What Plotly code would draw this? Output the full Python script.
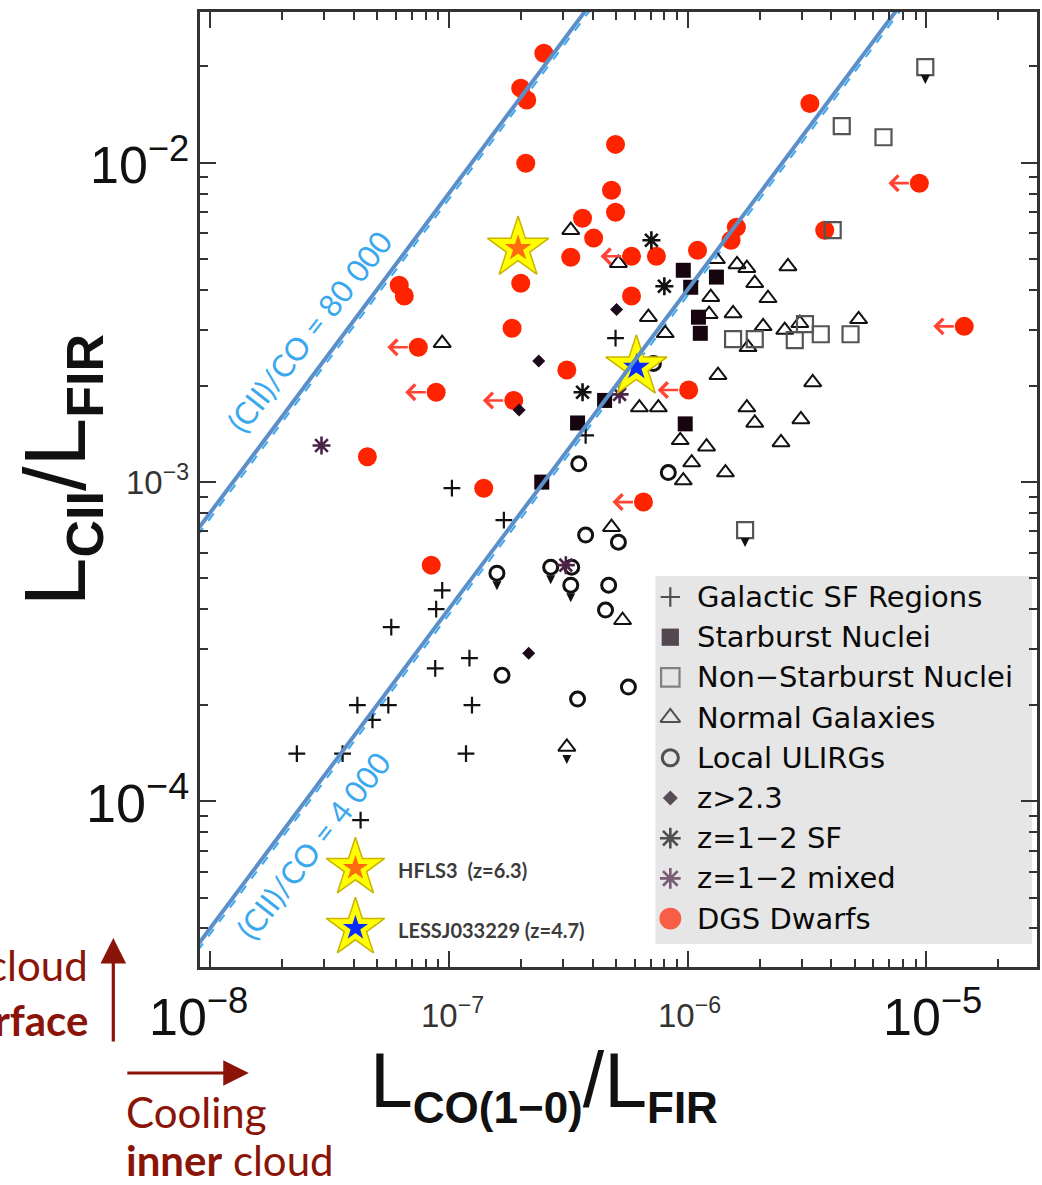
import numpy as np
import plotly.graph_objects as go

# ---------------- samples: x = L_CO(1-0)/L_FIR, y = L_CII/L_FIR ----------------
gal_x = [4.99e-7, 3.74e-7, 1.03e-7, 1.70e-7, 9.38e-8, 8.85e-8, 5.74e-8, 1.22e-7, 8.77e-8,
         4.14e-8, 5.58e-8, 1.25e-7, 4.79e-8, 2.31e-8, 3.59e-8, 1.18e-7, 4.27e-8]
gal_y = [2.82e-3, 1.40e-3, 9.56e-4, 7.59e-4, 4.58e-4, 4.00e-4, 3.51e-4, 2.81e-4, 2.61e-4,
         2.00e-4, 2.00e-4, 2.00e-4, 1.80e-4, 1.41e-4, 1.41e-4, 1.41e-4, 8.74e-5]

sb_x = [9.59e-7, 1.03e-6, 1.32e-6, 1.11e-6, 1.13e-6, 4.49e-7, 3.46e-7, 9.77e-7, 2.45e-7]
sb_y = [4.60e-3, 4.07e-3, 4.38e-3, 3.28e-3, 2.92e-3, 1.80e-3, 1.53e-3, 1.52e-3, 9.99e-4]

nsb_x = [9.89e-6, 4.42e-6, 6.61e-6, 4.05e-6, 1.55e-6, 1.91e-6, 2.81e-6, 3.10e-6, 3.61e-6,
         4.81e-6, 1.74e-6]
nsb_y = [1.99e-2, 1.30e-2, 1.20e-2, 6.14e-3, 2.80e-3, 2.80e-3, 2.78e-3, 3.12e-3, 2.90e-3,
         2.90e-3, 7.07e-4]
nsb_upper = [1, 0, 0, 0, 0, 0, 0, 0, 0, 0, 1]

norm_x = [3.24e-7, 5.13e-7, 9.38e-8, 1.32e-6, 1.61e-6, 1.77e-6, 1.91e-6, 2.17e-6, 2.63e-6,
          1.25e-6, 6.85e-7, 1.23e-6, 1.55e-6, 8.06e-7, 2.07e-6, 1.79e-6, 2.55e-6, 2.95e-6,
          5.20e-6, 1.34e-6, 3.34e-6, 6.28e-7, 7.54e-7, 1.77e-6, 1.91e-6, 2.98e-6, 2.46e-6,
          9.31e-7, 1.20e-6, 1.04e-6, 1.44e-6, 9.59e-7, 4.80e-7, 5.34e-7, 3.12e-7]
norm_y = [6.14e-3, 4.84e-3, 2.72e-3, 4.98e-3, 4.80e-3, 4.67e-3, 4.19e-3, 3.76e-3, 4.73e-3,
          3.79e-3, 3.28e-3, 3.35e-3, 3.37e-3, 2.92e-3, 3.07e-3, 2.64e-3, 2.99e-3, 3.14e-3,
          3.23e-3, 2.16e-3, 2.05e-3, 1.71e-3, 1.71e-3, 1.71e-3, 1.53e-3, 1.57e-3, 1.33e-3,
          1.35e-3, 1.29e-3, 1.15e-3, 1.07e-3, 1.01e-3, 7.22e-4, 3.69e-4, 1.48e-4]
norm_upper = [0] * 34 + [1]

ulirg_x = [3.50e-7, 8.30e-7, 3.74e-7, 5.13e-7, 1.59e-7, 2.67e-7, 3.27e-7, 3.24e-7, 4.67e-7,
           4.53e-7, 1.67e-7, 3.46e-7, 5.65e-7, 7.19e-7]
ulirg_y = [1.14e-3, 1.07e-3, 6.82e-4, 6.48e-4, 5.18e-4, 5.41e-4, 5.41e-4, 4.75e-4, 4.75e-4,
           3.97e-4, 2.48e-4, 2.09e-4, 2.28e-4, 2.35e-3]
ulirg_upper = [0, 0, 0, 0, 1, 1, 0, 1, 0, 0, 0, 0, 0, 0]

hiz_x = [5.04e-7, 2.38e-7, 1.97e-7, 2.16e-7]
hiz_y = [3.47e-3, 2.39e-3, 1.68e-3, 2.91e-4]

sf_x = [7.05e-7, 7.99e-7, 3.63e-7]
sf_y = [5.71e-3, 4.10e-3, 1.91e-3]

mix_x = [2.93e-8, 5.19e-7, 3.09e-7]
mix_y = [1.30e-3, 1.88e-3, 5.49e-4]

dgs_x = [2.50e-7, 2.00e-7, 2.12e-7, 4.99e-7, 2.10e-7, 4.80e-7, 4.99e-7, 3.63e-7, 4.04e-7,
         3.24e-7, 5.82e-7, 7.40e-7, 1.10e-6, 1.60e-6, 1.52e-6, 3.25e-6, 3.75e-6, 9.34e-6,
         2.00e-7, 6.20e-8, 6.51e-8, 5.82e-7, 1.84e-7, 7.45e-8, 8.85e-8, 1.87e-7, 4.56e-8,
         1.40e-7, 8.44e-8, 3.12e-7, 1.01e-6, 6.53e-7, 1.44e-5]
dgs_y = [2.20e-2, 1.71e-2, 1.57e-2, 1.14e-2, 9.95e-3, 8.19e-3, 6.99e-3, 6.69e-3, 5.80e-3,
         5.05e-3, 5.09e-3, 5.09e-3, 5.31e-3, 6.27e-3, 5.71e-3, 1.53e-2, 6.14e-3, 8.62e-3,
         4.19e-3, 4.13e-3, 3.82e-3, 3.82e-3, 3.03e-3, 2.64e-3, 1.91e-3, 1.80e-3, 1.20e-3,
         9.56e-4, 5.49e-4, 2.24e-3, 1.94e-3, 8.65e-4, 3.07e-3]
dgs_upper = [0, 0, 0, 0, 0, 0, 0, 0, 0, 0, 1, 0, 0, 0, 0, 0, 0, 1,
             0, 0, 0, 0, 0, 1, 1, 1, 0, 0, 0, 0, 1, 1, 1]

# high-redshift sources highlighted with stars
star_names = ["HFLS3  (z=6.3)", "LESSJ033229 (z=4.7)"]
star_x = [1.95e-7, 6.10e-7]
star_y = [5.39e-3, 2.29e-3]
star_core = ["#ff6c10", "#0a2cff"]

# constant [CII]/CO ratio lines
ratio_values = [80000, 4000]
ratio_labels = ["(CII)/CO = 80 000", "(CII)/CO = 4 000"]

# tick labels
xtick_vals = [1e-8, 1e-7, 1e-6, 1e-5]
xtick_text = ["10<sup>−8</sup>", "10<sup>−7</sup>", "10<sup>−6</sup>", "10<sup>−5</sup>"]
ytick_vals = [1e-2, 1e-3, 1e-4]
ytick_text = ["10<sup>−2</sup>", "10<sup>−3</sup>", "10<sup>−4</sup>"]

legend_names = ["Galactic SF Regions", "Starburst Nuclei", "Non−Starburst Nuclei",
                "Normal Galaxies", "Local ULIRGs", "z>2.3", "z=1−2 SF", "z=1−2 mixed",
                "DGS Dwarfs"]

# ---------------- page geometry ----------------
W, H = 1042, 1185
L_M, R_M, T_M, B_M = 200, 2, 12, 218
PW, PH = W - L_M - R_M, H - T_M - B_M


def fx(p):
    return (p - L_M) / PW


def fy(p):
    return (H - B_M - p) / PH


STY = {
    "Galactic SF Regions": dict(symbol="cross-thin", size=12, color="#111111",
                                line=dict(color="#111111", width=2.2)),
    "Starburst Nuclei": dict(symbol="square", size=15, color="#16040f",
                             line=dict(width=0)),
    "Non−Starburst Nuclei": dict(symbol="square-open", size=16, color="#555555",
                                 line=dict(color="#555555", width=2.2)),
    "Normal Galaxies": dict(symbol="triangle-up-open", size=15, color="#111111",
                            line=dict(color="#111111", width=2)),
    "Local ULIRGs": dict(symbol="circle-open", size=14, color="#111111",
                         line=dict(color="#111111", width=3)),
    "z>2.3": dict(symbol="diamond", size=10, color="#1c0a1a", line=dict(width=0)),
    "z=1−2 SF": dict(symbol="asterisk", size=15, color="#111111",
                     line=dict(color="#111111", width=2.6)),
    "z=1−2 mixed": dict(symbol="asterisk", size=15, color="#4b2347",
                        line=dict(color="#4b2347", width=2.6)),
    "DGS Dwarfs": dict(symbol="circle", size=19, color="#ff2400", line=dict(width=0)),
}

SERIES = {
    "DGS Dwarfs": (dgs_x, dgs_y),
    "Normal Galaxies": (norm_x, norm_y),
    "Non−Starburst Nuclei": (nsb_x, nsb_y),
    "Local ULIRGs": (ulirg_x, ulirg_y),
    "Galactic SF Regions": (gal_x, gal_y),
    "Starburst Nuclei": (sb_x, sb_y),
    "z>2.3": (hiz_x, hiz_y),
    "z=1−2 SF": (sf_x, sf_y),
    "z=1−2 mixed": (mix_x, mix_y),
}

LINE_BLUE = "#5b8fc9"
LABEL_BLUE = "#3aa8ee"
DARK_RED = "#8b1408"

fig = go.Figure()
x_span = np.array([1e-9, 1e-4])

# thin dashed companions of the ratio lines
for r in ratio_values:
    fig.add_trace(go.Scatter(x=x_span, y=0.96 * r * x_span, mode="lines",
                             line=dict(color=LABEL_BLUE, width=2, dash="dash"),
                             hoverinfo="skip"))

for name, (xs, ys) in SERIES.items():
    fig.add_trace(go.Scatter(x=xs, y=ys, mode="markers", name=name,
                             marker=STY[name], hoverinfo="skip"))

# highlighted sources: yellow star with coloured core
fig.add_trace(go.Scatter(x=star_x, y=star_y, mode="markers",
                         marker=dict(symbol="star", size=46, color="#ffff00",
                                     line=dict(color="#c9b400", width=1.5)),
                         hoverinfo="skip"))
fig.add_trace(go.Scatter(x=star_x, y=star_y, mode="markers",
                         marker=dict(symbol="star", size=20, color=star_core,
                                     line=dict(width=0)),
                         hoverinfo="skip"))

# constant-ratio lines
for r in ratio_values:
    fig.add_trace(go.Scatter(x=x_span, y=r * x_span, mode="lines",
                             line=dict(color=LINE_BLUE, width=4), hoverinfo="skip"))

# ---------------- legend key drawn on a pixel overlay ----------------
key_top, key_step, key_sym_x = 597, 40.2, 672
key_y = [key_top + key_step * i for i in range(len(legend_names))]
fig.add_trace(go.Scatter(
    x=[key_sym_x] * len(legend_names), y=key_y, mode="markers",
    xaxis="x2", yaxis="y2", hoverinfo="skip",
    marker=dict(symbol=[STY[n]["symbol"] for n in legend_names],
                size=[STY[n]["size"] * 1.15 for n in legend_names],
                color=[STY[n]["color"] for n in legend_names],
                line=dict(color=[STY[n]["line"].get("color", STY[n]["color"]) for n in legend_names],
                          width=[STY[n]["line"]["width"] for n in legend_names]))))

star_key_x, star_key_y = 356, [868, 928]
fig.add_trace(go.Scatter(x=[star_key_x] * 2, y=star_key_y, mode="markers",
                         xaxis="x2", yaxis="y2", hoverinfo="skip",
                         marker=dict(symbol="star", size=44, color="#ffff00",
                                     line=dict(color="#c9b400", width=1.5))))
fig.add_trace(go.Scatter(x=[star_key_x] * 2, y=star_key_y, mode="markers",
                         xaxis="x2", yaxis="y2", hoverinfo="skip",
                         marker=dict(symbol="star", size=19, color=star_core,
                                     line=dict(width=0))))

ann = []


def note(px_x, px_y, text, size, color, family="Lato", xanchor="center", angle=0):
    return dict(x=fx(px_x), y=fy(px_y), xref="paper", yref="paper", text=text,
                showarrow=False, xanchor=xanchor, yanchor="middle", textangle=angle,
                font=dict(family=family, size=size, color=color))


# upper limits: red arrows pointing left for dwarfs
for x, y, u in zip(dgs_x, dgs_y, dgs_upper):
    if u:
        ann.append(dict(x=np.log10(x), y=np.log10(y), xref="x", yref="y", text="",
                        showarrow=True, xshift=-31, ax=22, ay=0, axref="pixel",
                        arrowhead=4, arrowsize=1.15, arrowwidth=2.6, arrowcolor="#ff4436"))

# small downward arrows for limits
for xs, ys, us in [(nsb_x, nsb_y, nsb_upper), (norm_x, norm_y, norm_upper),
                   (ulirg_x, ulirg_y, ulirg_upper)]:
    for x, y, u in zip(xs, ys, us):
        if u:
            ann.append(dict(x=np.log10(x), y=np.log10(y), xref="x", yref="y", text="",
                            showarrow=True, yshift=-17, ax=0, ay=-9,
                            arrowhead=2, arrowsize=1, arrowwidth=1.8, arrowcolor="#111111"))

# tick labels
x_label_size = [52, 33, 33, 52]
x_label_shift = [-12, 4, 2, 6]
for v, t, s, sh in zip(xtick_vals, xtick_text, x_label_size, x_label_shift):
    ann.append(dict(x=np.log10(v), y=fy(1013), xref="x", yref="paper", text=t,
                    showarrow=False, xanchor="center", yanchor="middle", xshift=sh,
                    font=dict(family="Liberation Sans", size=s,
                              color="#111111" if s > 40 else "#333333")))
y_label_size = [52, 33, 54]
for v, t, s in zip(ytick_vals, ytick_text, y_label_size):
    ann.append(dict(x=fx(191), y=np.log10(v), xref="paper", yref="y", text=t,
                    showarrow=False, xanchor="right", yanchor="middle", yshift=2,
                    font=dict(family="Liberation Sans", size=s,
                              color="#111111" if s > 40 else "#333333")))

# axis titles
def sub(t, s):
    return "<sub><b><span style='font-size:%dpx'>%s</span></b></sub>" % (s, t)


x_title = "L" + sub("CO(1−0)", 44) + "/L" + sub("FIR", 44)
y_title = "L" + sub("CII", 52) + "/L" + sub("FIR", 52)
ann.append(note(545, 1084, x_title, 77, "#111111", family="Liberation Sans"))
ann.append(note(58, 470, y_title, 88, "#111111", family="Liberation Sans", angle=-90))

# ratio line labels
for txt, cx, cy in zip(ratio_labels, [310, 314], [331, 845]):
    ann.append(note(cx, cy, txt, 31, LABEL_BLUE, angle=-52))

# legend box text
for n, yk in zip(legend_names, key_y):
    ann.append(note(697, yk, n, 29, "#0a0a0a", family="DejaVu Sans", xanchor="left"))

# star key text
for n, yk in zip(star_names, star_key_y):
    ann.append(note(397, yk + 2, "<b>" + n + "</b>", 20, "#3c3c3c", xanchor="left"))

# cooling direction notes
ann.append(note(90, 965, "cloud", 42, DARK_RED, xanchor="right"))
ann.append(note(90, 1020, "<b>surface</b>", 42, DARK_RED, xanchor="right"))
ann.append(note(124, 1112, "Cooling", 42, DARK_RED, xanchor="left"))
ann.append(note(124, 1160, "<b>inner</b> cloud", 42, DARK_RED, xanchor="left"))
ann.append(dict(x=fx(113), y=fy(938), xref="paper", yref="paper", text="",
                showarrow=True, ax=0, ay=105, arrowhead=2, arrowsize=1.6, arrowwidth=3.2,
                arrowcolor=DARK_RED))
ann.append(dict(x=fx(249), y=fy(1073), xref="paper", yref="paper", text="",
                showarrow=True, ax=-123, ay=0, arrowhead=2, arrowsize=1.6, arrowwidth=3.2,
                arrowcolor=DARK_RED))

minor_x = [m * 10.0 ** e for e in range(-9, -4) for m in range(2, 10)]
minor_y = [m * 10.0 ** e for e in range(-5, -1) for m in range(2, 10)]

axis_common = dict(type="log", showticklabels=False, ticks="inside", ticklen=16,
                   tickwidth=2, tickcolor="#333333", showline=True, linecolor="#333333",
                   linewidth=2.5, mirror="allticks", showgrid=False, zeroline=False)

fig.update_layout(
    width=W, height=H,
    margin=dict(l=L_M, r=R_M, t=T_M, b=B_M, pad=0),
    paper_bgcolor="white", plot_bgcolor="white", showlegend=False,
    font=dict(family="Liberation Sans"),
    xaxis=dict(range=[-8.042, -4.537], tickvals=xtick_vals,
               minor=dict(tickvals=minor_x, ticks="inside", ticklen=8, tickwidth=2,
                          tickcolor="#333333", showgrid=False),
               **axis_common),
    yaxis=dict(range=[-4.5186, -1.5286], tickvals=ytick_vals,
               minor=dict(tickvals=minor_y, ticks="inside", ticklen=8, tickwidth=2,
                          tickcolor="#333333", showgrid=False),
               **axis_common),
    xaxis2=dict(overlaying="x", anchor="y2", range=[L_M, W - R_M], visible=False,
                fixedrange=True),
    yaxis2=dict(overlaying="y", anchor="x2", range=[H - B_M, T_M], visible=False,
                fixedrange=True),
    shapes=[dict(type="rect", xref="paper", yref="paper", x0=fx(657), x1=fx(1035),
                 y0=fy(944), y1=fy(576), fillcolor="#e6e6e6", line=dict(width=0),
                 layer="below")],
    annotations=ann,
)

fig.write_html("out.html")
